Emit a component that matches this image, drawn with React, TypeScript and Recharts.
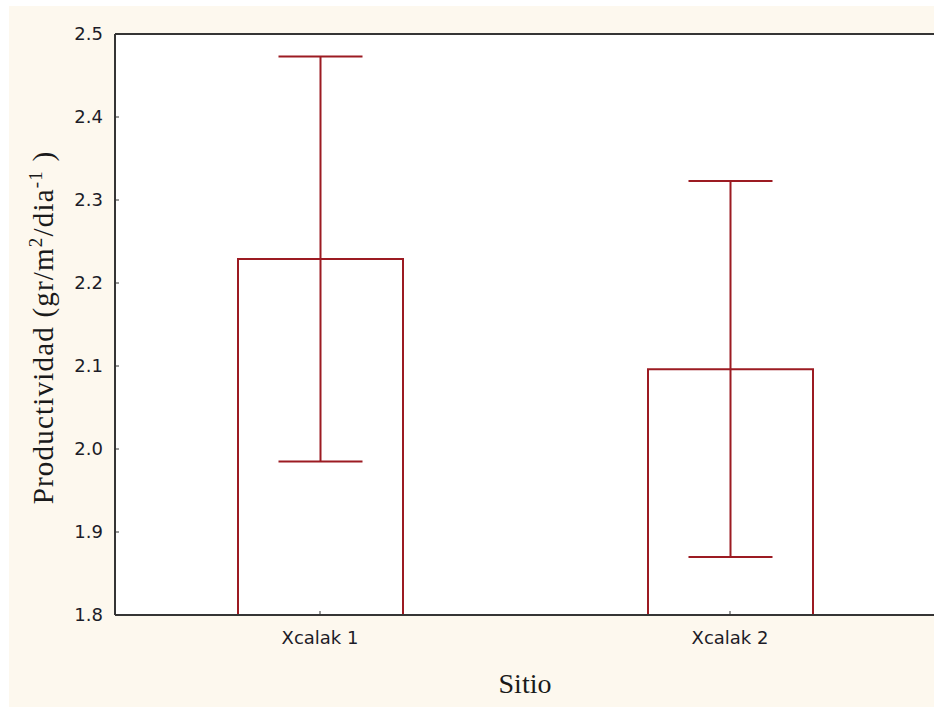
import { Bar, CartesianGrid, ComposedChart, ErrorBar, XAxis, YAxis } from "recharts";

// Productividad media por sitio, con límites del intervalo
const sitios = ["Xcalak 1", "Xcalak 2"];
const medias = [2.229, 2.096];
const limInf = [1.985, 1.87];
const limSup = [2.473, 2.323];
const yTicks = [1.8, 1.9, 2.0, 2.1, 2.2, 2.3, 2.4, 2.5];

const data = sitios.map((sitio, i) => ({
  sitio,
  media: medias[i],
  error: [medias[i] - limInf[i], limSup[i] - medias[i]],
}));

const ROJO = "#9c1b22";
const EJE = "#353535";
const tickStyle = { fill: "#1c1c28", fontSize: 18, fontFamily: "DejaVu Sans, sans-serif" };

function TituloY({ viewBox }: any) {
  const x = viewBox.x + 44;
  const y = viewBox.y + viewBox.height / 2 + 3;
  return (
    <text
      x={x}
      y={y}
      transform={`rotate(-90, ${x}, ${y})`}
      textAnchor="middle"
      fill="#1a1a1a"
      fontFamily="Liberation Serif, Times New Roman, serif"
      fontSize={29}
      letterSpacing={1.2}
    >
      Productividad (gr/m
      <tspan fontSize={19} dy={-11}>2</tspan>
      <tspan dy={11}>/dia</tspan>
      <tspan fontSize={19} dy={-11}>-1</tspan>
      <tspan dy={11}> )</tspan>
    </text>
  );
}

export default function App() {
  return (
    <div
      style={{
        position: "absolute",
        left: 0,
        top: 0,
        width: 934,
        height: 707,
        background: "#ffffff",
        overflow: "hidden",
      }}
    >
      <div style={{ position: "absolute", left: 9, top: 6, background: "#fdf8ee" }}>
        <ComposedChart
          width={930}
          height={701}
          data={data}
          margin={{ top: 26, right: 0, bottom: 0, left: 0 }}
        >
          <CartesianGrid fill="#ffffff" horizontal={false} vertical={false} />
          <Bar
            dataKey="media"
            fill="#ffffff"
            stroke={ROJO}
            strokeWidth={2}
            barSize={165}
            isAnimationActive={false}
          >
            <ErrorBar dataKey="error" width={42} stroke={ROJO} strokeWidth={2} />
          </Bar>
          <XAxis
            dataKey="sitio"
            height={92}
            stroke={EJE}
            axisLine={{ stroke: EJE, strokeWidth: 2 }}
            tickSize={-4}
            tickMargin={20}
            tick={tickStyle}
            label={{
              value: "Sitio",
              position: "insideBottom",
              offset: 14,
              fill: "#1a1a1a",
              fontSize: 28,
              fontFamily: "Liberation Serif, Times New Roman, serif",
            }}
          />
          <XAxis
            xAxisId="top"
            dataKey="sitio"
            orientation="top"
            height={2}
            stroke={EJE}
            axisLine={{ stroke: EJE, strokeWidth: 2 }}
            tickSize={-4}
            tick={false}
          />
          <YAxis
            domain={[1.8, 2.5]}
            ticks={yTicks}
            allowDataOverflow
            width={106}
            stroke={EJE}
            axisLine={{ stroke: EJE, strokeWidth: 2 }}
            tickSize={-4}
            tickMargin={16}
            tick={tickStyle}
            tickFormatter={(v: number) => v.toFixed(1)}
            label={<TituloY />}
          />
          <YAxis
            yAxisId="right"
            orientation="right"
            domain={[1.8, 2.5]}
            ticks={yTicks}
            allowDataOverflow
            width={4}
            stroke={EJE}
            axisLine={{ stroke: EJE, strokeWidth: 2 }}
            tickSize={-4}
            tick={false}
          />
        </ComposedChart>
      </div>
    </div>
  );
}
